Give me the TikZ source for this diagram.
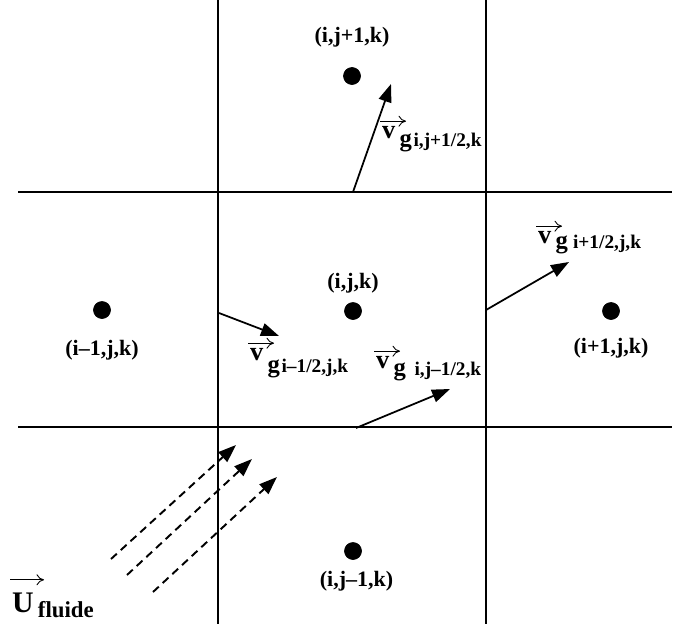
\documentclass[tikz,border=0pt]{standalone}
\usepackage{fontspec}
\setmainfont{Liberation Serif}
\usetikzlibrary{arrows.meta,positioning}
\tikzset{
  grid/.style={line width=1.1pt},
  cell/.style={circle,fill,draw,minimum size=3.4mm,inner sep=0pt},
  lbl/.style={font=\fontsize{12.5}{14}\selectfont\bfseries,inner sep=1pt},
  vsym/.style={font=\fontsize{15}{17}\selectfont\bfseries,inner sep=1pt,anchor=base west},
  vsub/.style={font=\fontsize{14}{16}\selectfont\bfseries,inner sep=1pt,anchor=base west},
  overarrow/.style={line width=0.5pt,-{To[length=1.5mm,width=2.2mm]}},
  flux/.style={line width=1pt,-{Triangle[length=3.6mm,width=2.6mm]}},
  wind/.style={flux,line width=1.1pt,dash pattern=on 4.5pt off 3pt},
  every picture/.style={line cap=butt,line join=round}
}

\begin{document}
\begin{tikzpicture}[x=0.2mm,y=-0.2mm]
    \useasboundingbox (0,0) rectangle (681,624);
    % mesh lines
    \draw[grid] (18,192) -- (672,192);
    \draw[grid] (18,427) -- (672,427);
    \draw[grid] (218,0) -- (218,624);
    \draw[grid] (486,0) -- (486,624);

    % cell centres
    \node[cell] (c) at (353,311) {};
    \node[cell] (n) at (352,76) {};
    \node[cell] (w) at (102,310) {};
    \node[cell] (e) at (611,311) {};
    \node[cell] (s) at (353,551) {};
    \node[lbl,above=4pt of c] (cl) {(i,j,k)};
    \node[lbl,above=10pt of n] (nl) {(i,j+1,k)};
    \node[lbl,below=11pt of w] (wl) {(i--1,j,k)};
    \node[lbl,below=9pt of e] (el) {(i+1,j,k)};
    \node[lbl,below=5pt of s,xshift=2pt] (sl) {(i,j--1,k)};

    % face velocities
    \coordinate (fn0) at (353,192); \coordinate (fn1) at (391,84);
    \coordinate (fe0) at (486,310); \coordinate (fe1) at (569,262);
    \coordinate (fw0) at (219,313); \coordinate (fw1) at (279,336);
    \coordinate (fs0) at (356,428); \coordinate (fs1) at (450,389);
    \draw[flux] (fn0) -- (fn1);
    \draw[flux] (fe0) -- (fe1);
    \draw[flux] (fw0) -- (fw1);
    \draw[flux] (fs0) -- (fs1);

    % velocity labels: name/x/y/drop/gap/size/indices
    \foreach \v/\x/\y/\d/\g/\s/\t in {vn/380/138/5pt/1pt/11/{i,j+1/2,k},
        ve/536/243/3pt/3pt/11/{i+1/2,j,k},
        vw/248/360/7pt/1pt/11/{i--1/2,j,k},
        vs/374/368/4pt/5pt/11/{i,j--1/2,k}}{
      \node[vsym] (\v) at (\x,\y) {v};
      \node[vsub] (\v i) at ([yshift=-\d]\v.base east) {g\hspace{\g}{\fontsize{\s}{\s}\selectfont \t}};
      \draw[overarrow] ([yshift=1.5pt]\v.north west) -- ++(26,0);
    }

    % incoming fluid
    \foreach \i/\xa/\ya/\xb/\yb in {1/111/559/236/445,2/127/575/252/459,3/153/592/277/477}{
      \coordinate (u\i a) at (\xa,\ya);
      \coordinate (u\i b) at (\xb,\yb);
      \draw[wind] (u\i a) -- (u\i b);
    }
    \node[vsym,font=\fontsize{17}{19}\selectfont\bfseries] (uf) at (10,612) {U};
    \node[vsub,font=\fontsize{13}{15}\selectfont\bfseries] (ufi) at ([yshift=-3pt]uf.base east) {fluide};
    \draw[overarrow] ([yshift=6pt]uf.north west) -- ++(34,0);
\end{tikzpicture}
\end{document}
